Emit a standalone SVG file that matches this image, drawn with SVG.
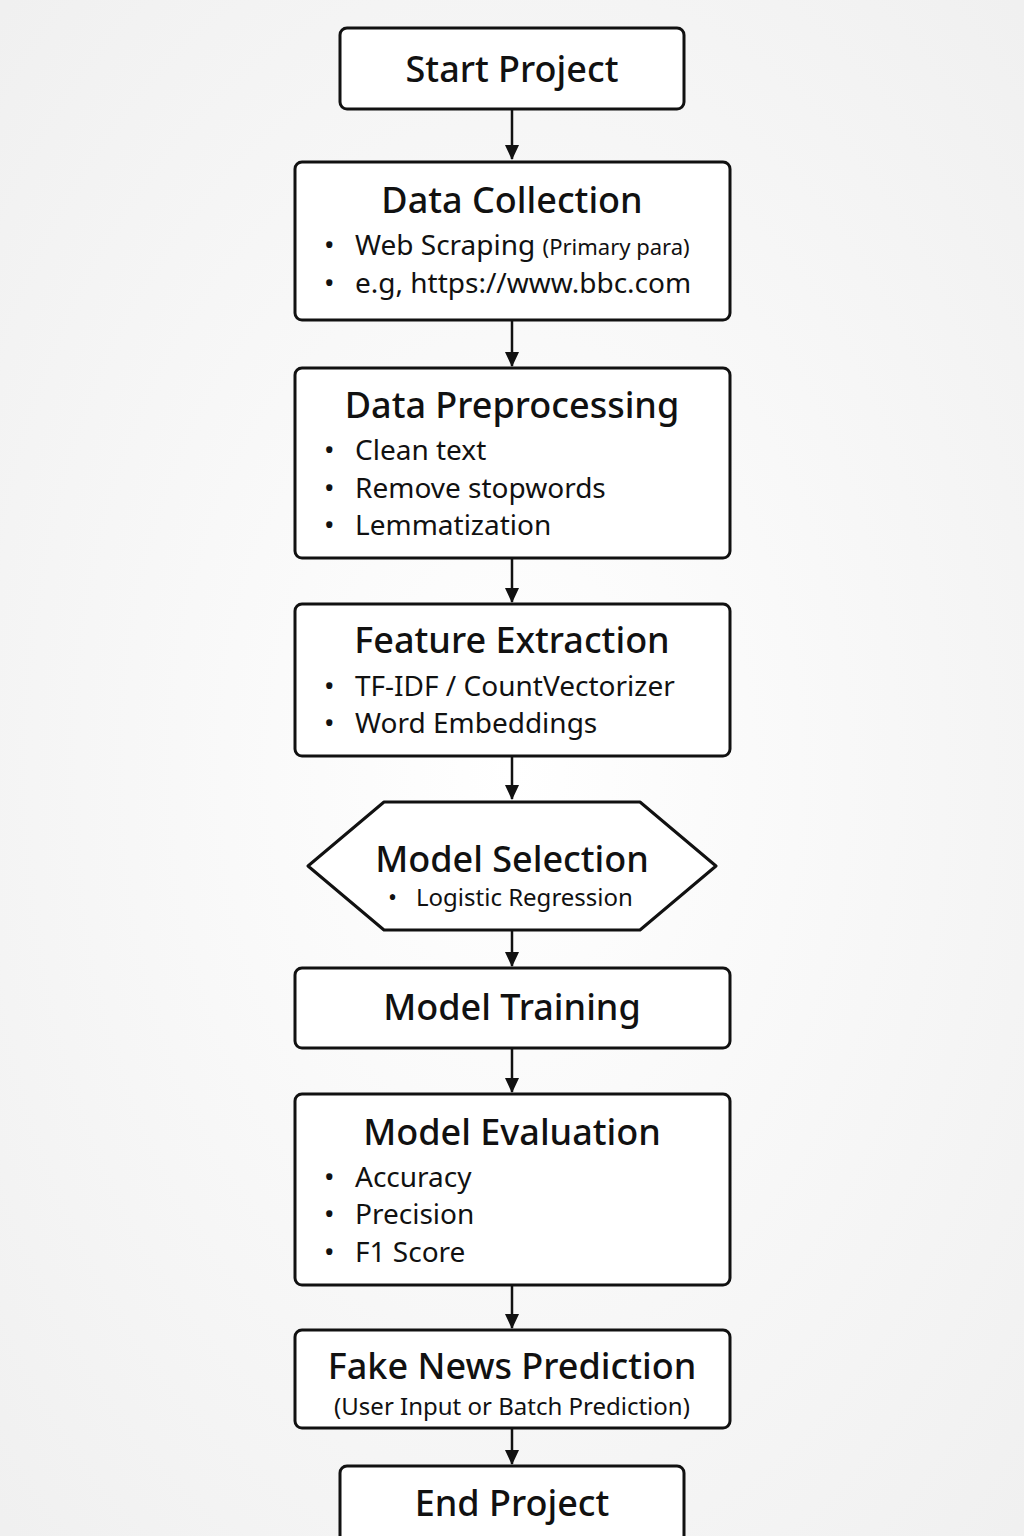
<svg xmlns="http://www.w3.org/2000/svg" width="1024" height="1536" viewBox="0 0 1024 1536">
<defs>
<marker id="ah" markerWidth="16" markerHeight="16" refX="14" refY="8" orient="auto" markerUnits="userSpaceOnUse" viewBox="0 0 16 16">
<path d="M0,1 L15,8 L0,15 z" fill="#111"/>
</marker>
<radialGradient id="bg" cx="50%" cy="50%" r="70%">
<stop offset="0" stop-color="#ffffff"/>
<stop offset="1" stop-color="#f0f0f0"/>
</radialGradient>
</defs>
<style>
.box{fill:#fff;stroke:#111;stroke-width:3}
.t{font-family:"Noto Sans","Open Sans",sans-serif;fill:#111;text-anchor:middle;font-size:36px;font-weight:500}
.b{font-family:"Noto Sans","Open Sans",sans-serif;fill:#111;font-size:28px}
.s{font-family:"Noto Sans","Open Sans",sans-serif;fill:#111;font-size:24px}
.sub{font-family:"Noto Sans","Open Sans",sans-serif;fill:#111;font-size:24px;text-anchor:middle}
.c{stroke:#111;stroke-width:2.5;fill:none;marker-end:url(#ah)}
</style>
<rect width="1024" height="1536" fill="url(#bg)"/>
<g id="connectors">
<line class="c" x1="512" y1="110" x2="512" y2="159"/>
<line class="c" x1="512" y1="321" x2="512" y2="366"/>
<line class="c" x1="512" y1="559" x2="512" y2="602"/>
<line class="c" x1="512" y1="757" x2="512" y2="799"/>
<line class="c" x1="512" y1="931" x2="512" y2="966"/>
<line class="c" x1="512" y1="1049" x2="512" y2="1092"/>
<line class="c" x1="512" y1="1286" x2="512" y2="1328"/>
<line class="c" x1="512" y1="1429" x2="512" y2="1464"/>
</g>
<g id="start">
<rect class="box" x="340" y="28" width="344" height="81" rx="7"/>
<text class="t" x="512" y="82">Start Project</text>
</g>
<g id="collection">
<rect class="box" x="295" y="162" width="435" height="158" rx="7"/>
<text class="t" x="512" y="213">Data Collection</text>
<text class="b" x="324" y="255">•</text><text class="b" x="355" y="255">Web Scraping <tspan style="font-size:22px">(Primary para)</tspan></text>
<text class="b" x="324" y="293">•</text><text class="b" x="355" y="293">e.g, https://www.bbc.com</text>
</g>
<g id="preprocessing">
<rect class="box" x="295" y="368" width="435" height="190" rx="7"/>
<text class="t" x="512" y="418">Data Preprocessing</text>
<text class="b" x="324" y="460">•</text><text class="b" x="355" y="460">Clean text</text>
<text class="b" x="324" y="498">•</text><text class="b" x="355" y="498">Remove stopwords</text>
<text class="b" x="324" y="535">•</text><text class="b" x="355" y="535">Lemmatization</text>
</g>
<g id="features">
<rect class="box" x="295" y="604" width="435" height="152" rx="7"/>
<text class="t" x="512" y="653">Feature Extraction</text>
<text class="b" x="324" y="696">•</text><text class="b" x="355" y="696">TF-IDF / CountVectorizer</text>
<text class="b" x="324" y="733">•</text><text class="b" x="355" y="733">Word Embeddings</text>
</g>
<g id="selection">
<polygon class="box" points="308,866 384,802 640,802 716,866 640,930 384,930" stroke-linejoin="round"/>
<text class="t" x="512" y="872">Model Selection</text>
<text class="s" x="388" y="906">•</text><text class="s" x="416" y="906">Logistic Regression</text>
</g>
<g id="training">
<rect class="box" x="295" y="968" width="435" height="80" rx="7"/>
<text class="t" x="512" y="1020">Model Training</text>
</g>
<g id="evaluation">
<rect class="box" x="295" y="1094" width="435" height="191" rx="7"/>
<text class="t" x="512" y="1145">Model Evaluation</text>
<text class="b" x="324" y="1187">•</text><text class="b" x="355" y="1187">Accuracy</text>
<text class="b" x="324" y="1224">•</text><text class="b" x="355" y="1224">Precision</text>
<text class="b" x="324" y="1262">•</text><text class="b" x="355" y="1262">F1 Score</text>
</g>
<g id="prediction">
<rect class="box" x="295" y="1330" width="435" height="98" rx="7"/>
<text class="t" x="512" y="1379">Fake News Prediction</text>
<text class="sub" x="512" y="1415">(User Input or Batch Prediction)</text>
</g>
<g id="end">
<rect class="box" x="340" y="1466" width="344" height="90" rx="7"/>
<text class="t" x="512" y="1516">End Project</text>
</g>
</svg>
